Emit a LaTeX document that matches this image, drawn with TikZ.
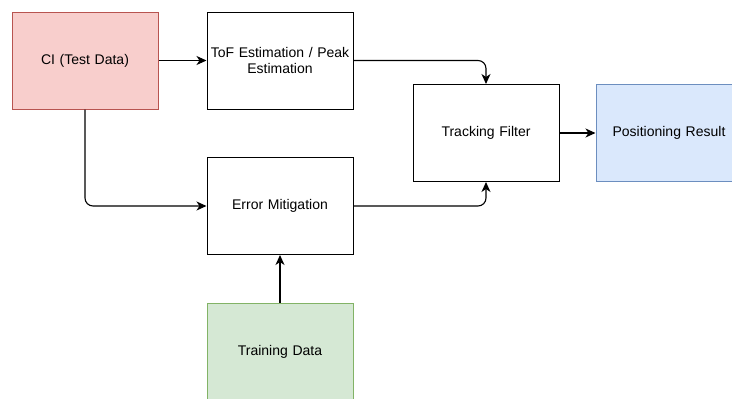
\documentclass[tikz,border=0pt]{standalone}
\usepackage{fontspec}
\setmainfont{Liberation Sans}
\usetikzlibrary{arrows.meta}
\definecolor{redfill}{HTML}{F8CECC}
\definecolor{redline}{HTML}{B85450}
\definecolor{bluefill}{HTML}{DAE8FC}
\definecolor{blueline}{HTML}{6C8EBF}
\definecolor{greenfill}{HTML}{D5E8D4}
\definecolor{greenline}{HTML}{82B366}
\tikzset{
  box/.style={draw=black, line width=1pt, minimum width=146pt, minimum height=97pt,
    inner sep=0pt, align=center, font=\fontsize{14}{16.5}\selectfont, text width=144pt},
  conn/.style={line width=1.1pt, -{Stealth[length=10pt,width=9pt,inset=3pt]}, rounded corners=8pt}
}
\begin{document}
\begin{tikzpicture}[x=1pt,y=-1pt]
\useasboundingbox (0,0) rectangle (732,399);
\node[box, fill=redfill, draw=redline] (ci) at (85,60.5) {CI (Test Data)};
\node[box, fill=white] (tof) at (280,60.5) {ToF Estimation / Peak\\Estimation};
\node[box, fill=white] (track) at (486,133) {Tracking Filter};
\node[box, fill=bluefill, draw=blueline] (pos) at (669,133) {Positioning Result};
\node[box, fill=white] (err) at (280,206) {Error Mitigation};
\node[box, fill=greenfill, draw=greenline] (train) at (280,351.5) {Training Data};
\draw[conn] (ci) -- (tof);
\draw[conn] (tof.east) -| (track.north);
\draw[conn] (ci.south) |- (err.west);
\draw[conn] (err.east) -| (track.south);
\draw[conn] (train) -- (err);
\draw[conn] (track) -- (pos);
\end{tikzpicture}
\end{document}
